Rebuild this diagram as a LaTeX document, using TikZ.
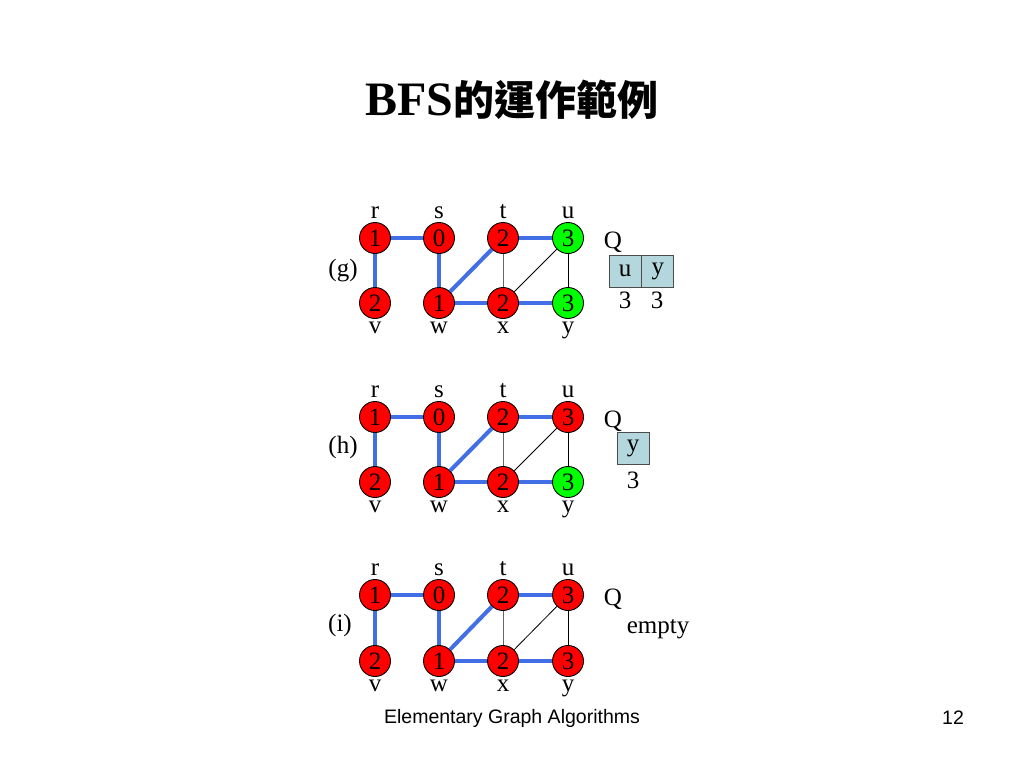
\documentclass[tikz,border=0pt]{standalone}
\usepackage{fontspec}
\setmainfont{Liberation Serif}
\setsansfont{Liberation Sans}
\newfontfamily\cjk{Noto Sans CJK TC}
\definecolor{treeblue}{RGB}{66,110,230}
\definecolor{qfill}{RGB}{180,215,222}
\definecolor{vgreen}{RGB}{0,255,0}
\tikzset{
  vtx/.style={circle,draw=black,line width=0.9pt,minimum size=31pt,inner sep=0pt,font=\fontsize{25}{30}\selectfont},
  lbl/.style={anchor=base,inner sep=0pt,font=\fontsize{25}{30}\selectfont},
  txt/.style={inner sep=0pt,font=\fontsize{25}{30}\selectfont},
  tree/.style={draw=treeblue,line width=4pt},
  thin/.style={draw=black,line width=0.8pt},
  qcell/.style={draw=black!70,fill=qfill,line width=0.9pt,minimum width=32pt,minimum height=32pt,inner sep=0pt,font=\fontsize{25}{30}\selectfont}
}
\newcommand\bfsg[5]{%
  \node[vtx,fill=red] (#1r) at (375,#2) {1};
  \node[vtx,fill=red] (#1s) at (439,#2) {0};
  \node[vtx,fill=red] (#1t) at (503,#2) {2};
  \node[vtx,fill=#4] (#1u) at (568,#2) {3};
  \node[vtx,fill=red] (#1v) at (375,#3) {2};
  \node[vtx,fill=red] (#1w) at (439,#3) {1};
  \node[vtx,fill=red] (#1x) at (503,#3) {2};
  \node[vtx,fill=#5] (#1y) at (568,#3) {3};
  \node[lbl] (#1rl) at (375,#2-20) {r};
  \node[lbl] (#1sl) at (439,#2-20) {s};
  \node[lbl] (#1tl) at (503,#2-20) {t};
  \node[lbl] (#1ul) at (568,#2-20) {u};
  \node[lbl] (#1vl) at (375,#3+30) {v};
  \node[lbl] (#1wl) at (439,#3+30) {w};
  \node[lbl] (#1xl) at (503,#3+30) {x};
  \node[lbl] (#1yl) at (568,#3+30) {y};
  \draw[tree] (#1r) -- (#1s);
  \draw[tree] (#1r) -- (#1v);
  \draw[tree] (#1s) -- (#1w);
  \draw[tree] (#1w) -- (#1t);
  \draw[tree] (#1w) -- (#1x);
  \draw[tree] (#1t) -- (#1u);
  \draw[tree] (#1x) -- (#1y);
  \draw[thin,draw=black!60] (#1t) -- (#1x);
  \draw[thin] (#1x) -- (#1u);
  \draw[thin] (#1u) -- (#1y);
  \node[lbl] (#1Q) at (613,#2+10) {Q};
}
\begin{document}
\begin{tikzpicture}[x=1pt,y=-1pt]
\useasboundingbox (0,0) rectangle (1024,768);
% title
\node[inner sep=0pt] (title) at (512,100) {\fontsize{48}{50}\selectfont\bfseries BFS{\cjk\fontsize{41}{50}\selectfont\bfseries 的運作範例}};
% (g)
\bfsg{g}{238}{303}{vgreen}{vgreen}
\node[txt] (glab) at (343,271) {(g)};
\node[qcell] (gq1) at (625,271) {u};
\node[qcell,anchor=west] (gq2) at (gq1.east) {y};
\node[txt] (gd1) at (625,300) {3};
\node[txt] (gd2) at (657,300) {3};
% (h)
\bfsg{h}{417}{482}{red}{vgreen}
\node[txt] (hlab) at (343,447) {(h)};
\node[qcell] (hq1) at (633,448) {y};
\node[txt] (hd1) at (633,480) {3};
% (i)
\bfsg{i}{595}{661}{red}{red}
\node[txt] (ilab) at (340,625) {(i)};
\node[lbl] (iempty) at (658,633) {empty};
% footer
\node[inner sep=0pt,font=\sffamily\fontsize{19.5}{22}\selectfont] (foot) at (512,718) {Elementary Graph Algorithms};
\node[inner sep=0pt,font=\sffamily\fontsize{19.5}{22}\selectfont] (page) at (953,718) {12};
\end{tikzpicture}
\end{document}
